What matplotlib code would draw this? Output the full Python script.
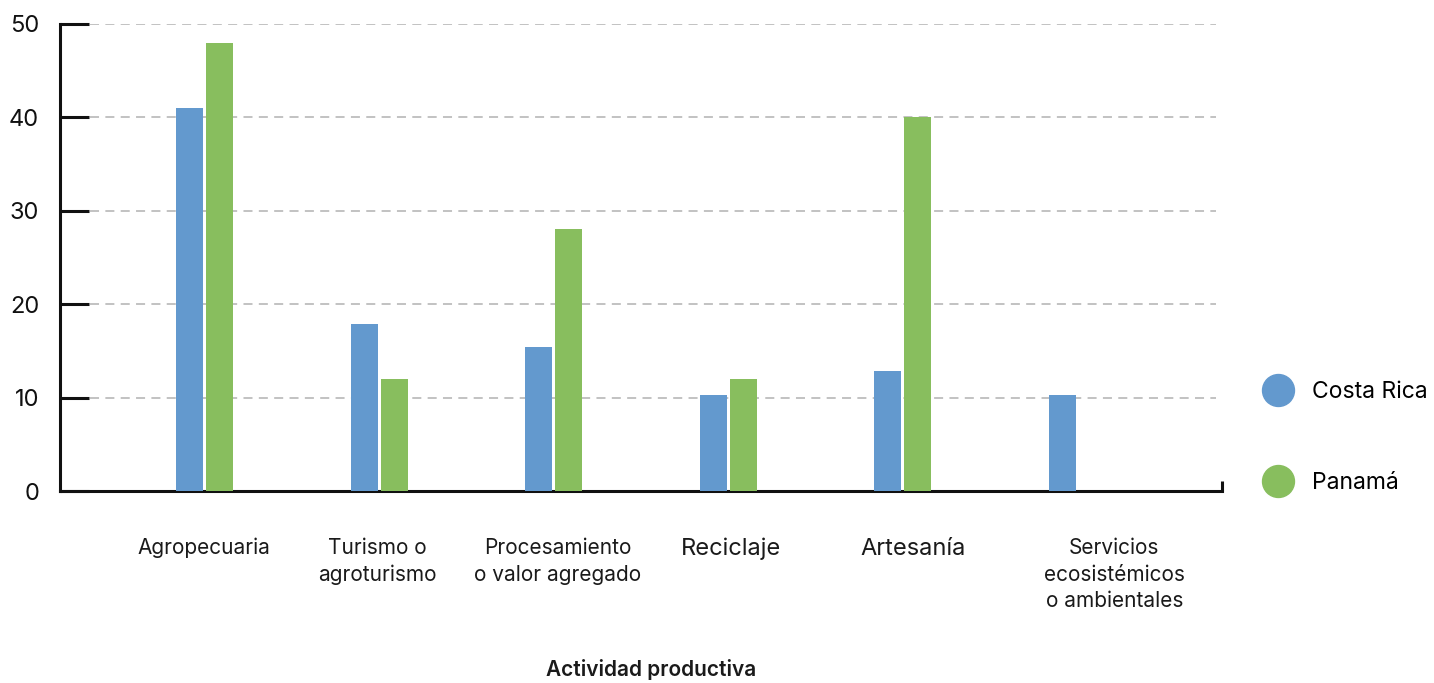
import matplotlib
matplotlib.use("Agg")
import matplotlib.pyplot as plt
import matplotlib.transforms as mtransforms
from matplotlib.lines import Line2D
import numpy as np

plt.rcParams['font.family'] = ['Inter', 'DejaVu Sans']

# data
categorias = ["Agropecuaria", "Turismo o\nagroturismo", "Procesamiento\no valor agregado",
              "Reciclaje", "Artesanía", "Servicios\necosistémicos\no ambientales"]
costa_rica = [41, 17.9, 15.4, 10.3, 12.8, 10.3]
panama = [48, 12, 28, 12, 40, 0]
series = ["Costa Rica", "Panamá"]
y_ticks = [0, 10, 20, 30, 40, 50]

c_blue = "#6399ce"
c_green = "#88be5e"

fig = plt.figure(figsize=(14.34, 6.83), dpi=100)
ax = fig.add_axes([60 / 1434, 1 - 491 / 683, 1162 / 1434, 467 / 683])

x = np.arange(len(categorias))
w = 0.155
ax.bar(x - 0.086, costa_rica, width=w, color=c_blue, zorder=3)
ax.bar(x + 0.086, [v if v > 0 else np.nan for v in panama], width=w, color=c_green, zorder=3)

ax.set_xlim(-0.83, 5.83)
ax.set_ylim(0, 50)

# grid
for t in y_ticks[1:]:
    ax.axhline(t, xmin=0.026, xmax=0.995, color="#bdbdbd", lw=1.3,
               ls=(0, (5, 3.5)), zorder=1)

for s in ["top", "right"]:
    ax.spines[s].set_visible(False)
for s in ["left", "bottom"]:
    ax.spines[s].set_linewidth(2.2)
    ax.spines[s].set_color("#111111")

ax.set_yticks(y_ticks)
ax.tick_params(axis="y", direction="in", length=21, width=2.2, color="#111111",
               labelsize=17, pad=15, labelcolor="#111111")
ax.set_xticks([])
# small end tick on the right of the x axis
ax.plot([1, 1], [0, 0.022], transform=ax.transAxes, color="#111111", lw=2.2,
        clip_on=False, solid_capstyle="butt")

# category labels
trans = mtransforms.blended_transform_factory(ax.transData, fig.transFigure)
offs = [-0.005, -0.013, 0.024, 0.013, 0.058, 0.213]
sizes = [15, 15, 15, 17, 17, 15]
for i, lab in enumerate(categorias):
    ax.text(i + offs[i], 1 - 538 / 683, lab, transform=trans, ha="center", va="top",
            fontsize=sizes[i], linespacing=1.42, color="#1a1a1a")

fig.text(651 / 1434, 1 - 670 / 683, "Actividad productiva", ha="center", va="center",
         fontsize=15, fontweight="semibold", color="#1a1a1a")

handles = [Line2D([], [], ls="none", marker="o", markersize=23, color=c)
           for c in (c_blue, c_green)]
fig.legend(handles, series, loc="center left", bbox_to_anchor=(1262 / 1434, 1 - 437.5 / 683),
           frameon=False, fontsize=16.5, borderpad=0, borderaxespad=0,
           handlelength=1.4, handletextpad=0.78, labelspacing=2.98)

fig.savefig("out.png", dpi=100)
